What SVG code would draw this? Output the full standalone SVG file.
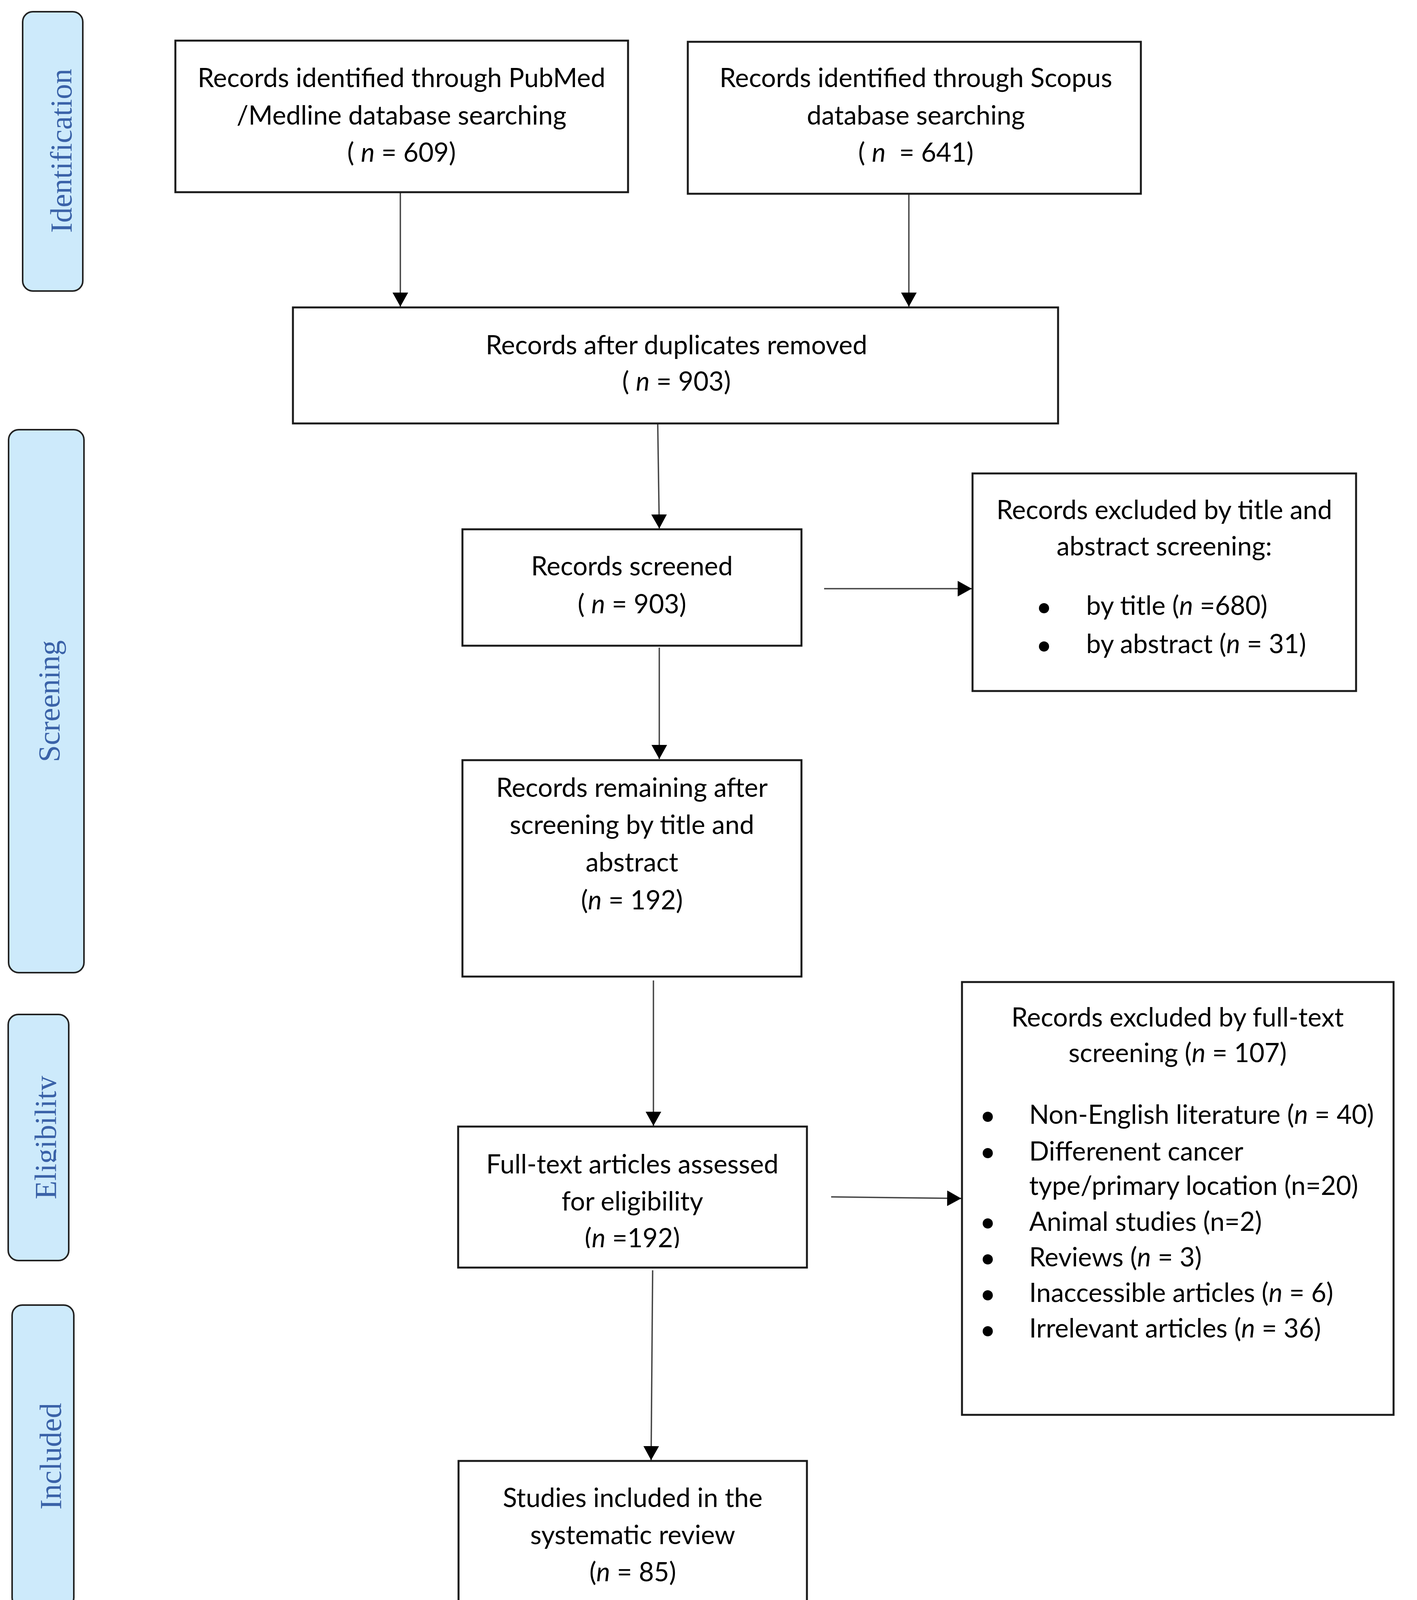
<svg xmlns="http://www.w3.org/2000/svg" width="3628" height="4157" viewBox="0 0 3628 4157">
<style>
.lane{fill:#cdeafb;stroke:#222;stroke-width:4}
.lt{font-family:"Liberation Serif",serif;font-size:78px;fill:#3a62a8;text-anchor:middle}
.box{fill:#fff;stroke:#1a1a1a;stroke-width:5}
.t{font-family:Lato,"Liberation Sans",sans-serif;font-size:67px;fill:#000;text-anchor:middle}
.tl{font-family:Lato,"Liberation Sans",sans-serif;font-size:67px;fill:#000;text-anchor:start}
.i{font-style:italic}
.conn{stroke:#444;stroke-width:3.5;fill:none;marker-end:url(#ah)}
.bul{fill:#000}
</style>
<defs>
<marker id="ah" markerUnits="userSpaceOnUse" markerWidth="36" markerHeight="40" refX="36" refY="20" orient="auto">
<path d="M0,0 L36,20 L0,40 z" fill="#000"/>
</marker>
<clipPath id="clipElig"><rect x="0" y="2590" width="144" height="650"/></clipPath>
<clipPath id="clipFT"><rect x="1173" y="2884" width="893" height="311"/></clipPath>
</defs>
<rect width="3628" height="4157" fill="#fff"/>

<g id="lane-identification">
<rect class="lane" x="58" y="30" width="154" height="715" rx="26"/>
<text class="lt" transform="translate(183,386) rotate(-90)">Identification</text>
</g>
<g id="lane-screening">
<rect class="lane" x="22" y="1100" width="193" height="1390" rx="26"/>
<text class="lt" transform="translate(152,1795) rotate(-90)">Screening</text>
</g>
<g id="lane-eligibility">
<rect class="lane" x="21" y="2597" width="155" height="630" rx="26"/>
<g clip-path="url(#clipElig)">
<text class="lt" transform="translate(143,2912) rotate(-90)">Eligibility</text>
</g>
</g>
<g id="lane-included">
<rect class="lane" x="31" y="3341" width="158" height="775" rx="26"/>
<text class="lt" transform="translate(156,3728) rotate(-90)">Included</text>
</g>

<g id="connectors">
<line class="conn" x1="1025" y1="492" x2="1025" y2="785"/>
<line class="conn" x1="2327" y1="496" x2="2327" y2="785"/>
<line class="conn" x1="1684" y1="1084" x2="1688" y2="1353"/>
<line class="conn" x1="2110" y1="1507" x2="2488" y2="1507"/>
<line class="conn" x1="1688" y1="1658" x2="1688" y2="1943"/>
<line class="conn" x1="1673" y1="2510" x2="1673" y2="2882"/>
<line class="conn" x1="2128" y1="3064" x2="2461" y2="3068"/>
<line class="conn" x1="1671" y1="3252" x2="1667" y2="3738"/>
</g>

<g id="n-pubmed">
<rect class="box" x="449" y="104" width="1159" height="388"/>
<text class="t" x="1028" y="223">Records identified through PubMed</text>
<text class="t" x="1028" y="319">/Medline database searching</text>
<text class="t" x="1028" y="414">( <tspan class="i">n</tspan> = 609)</text>
</g>
<g id="n-scopus">
<rect class="box" x="1761" y="107" width="1160" height="389"/>
<text class="t" x="2345" y="223">Records identified through Scopus</text>
<text class="t" x="2345" y="319">database searching</text>
<text class="t" x="2345" y="414" xml:space="preserve">( <tspan class="i">n</tspan>  = 641)</text>
</g>
<g id="n-duplicates">
<rect class="box" x="750" y="787" width="1959" height="297"/>
<text class="t" x="1732" y="907">Records after duplicates removed</text>
<text class="t" x="1732" y="1000">( <tspan class="i">n</tspan> = 903)</text>
</g>
<g id="n-screened">
<rect class="box" x="1184" y="1355" width="868" height="298"/>
<text class="t" x="1618" y="1473">Records screened</text>
<text class="t" x="1618" y="1570">( <tspan class="i">n</tspan> = 903)</text>
</g>
<g id="n-excluded-ta">
<rect class="box" x="2490" y="1212" width="982" height="557"/>
<text class="t" x="2981" y="1329">Records excluded by title and</text>
<text class="t" x="2981" y="1422">abstract screening:</text>
<circle class="bul" cx="2673" cy="1557" r="13"/>
<text class="tl" x="2781" y="1574">by title (<tspan class="i">n</tspan> =680)</text>
<circle class="bul" cx="2673" cy="1655" r="13"/>
<text class="tl" x="2781" y="1672">by abstract (<tspan class="i">n</tspan> = 31)</text>
</g>
<g id="n-remaining">
<rect class="box" x="1184" y="1946" width="868" height="554"/>
<text class="t" x="1618" y="2040">Records remaining after</text>
<text class="t" x="1618" y="2135">screening by title and</text>
<text class="t" x="1618" y="2231">abstract</text>
<text class="t" x="1618" y="2328">(<tspan class="i">n</tspan> = 192)</text>
</g>
<g id="n-fulltext">
<rect class="box" x="1173" y="2884" width="893" height="361"/>
<g clip-path="url(#clipFT)">
<text class="t" x="1619" y="3004">Full-text articles assessed</text>
<text class="t" x="1619" y="3099">for eligibility</text>
<text class="t" x="1619" y="3193">(<tspan class="i">n</tspan> =192)</text>
</g>
</g>
<g id="n-excluded-ft">
<rect class="box" x="2463" y="2514" width="1105" height="1108"/>
<text class="t" x="3015" y="2628">Records excluded by full-text</text>
<text class="t" x="3015" y="2719">screening (<tspan class="i">n</tspan> = 107)</text>
<circle class="bul" cx="2529" cy="2859" r="13"/>
<text class="tl" x="2635" y="2877">Non-English literature (<tspan class="i">n</tspan> = 40)</text>
<circle class="bul" cx="2529" cy="2952" r="13"/>
<text class="tl" x="2635" y="2971">Differenent cancer</text>
<text class="tl" x="2635" y="3059">type/primary location (n=20)</text>
<circle class="bul" cx="2529" cy="3132" r="13"/>
<text class="tl" x="2635" y="3151">Animal studies (n=2)</text>
<circle class="bul" cx="2529" cy="3224" r="13"/>
<text class="tl" x="2635" y="3242">Reviews (<tspan class="i">n</tspan> = 3)</text>
<circle class="bul" cx="2529" cy="3316" r="13"/>
<text class="tl" x="2635" y="3333">Inaccessible articles (<tspan class="i">n</tspan> = 6)</text>
<circle class="bul" cx="2529" cy="3408" r="13"/>
<text class="tl" x="2635" y="3424">Irrelevant articles (<tspan class="i">n</tspan> = 36)</text>
</g>
<g id="n-included">
<rect class="box" x="1174" y="3740" width="892" height="378"/>
<text class="t" x="1620" y="3858">Studies included in the</text>
<text class="t" x="1620" y="3953">systematic review</text>
<text class="t" x="1620" y="4048">(<tspan class="i">n</tspan> = 85)</text>
</g>
</svg>
